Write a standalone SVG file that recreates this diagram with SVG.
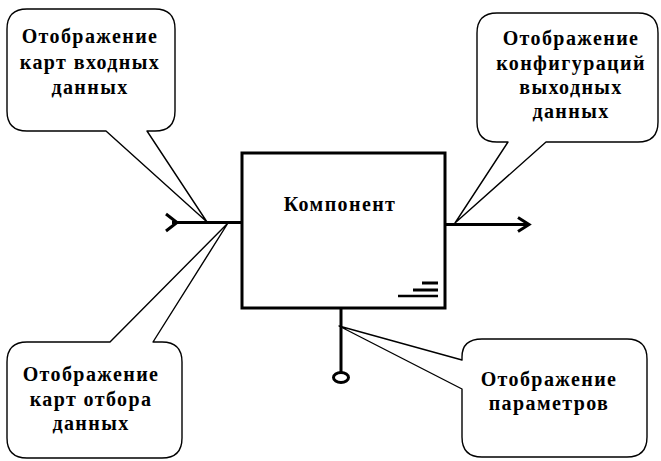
<svg xmlns="http://www.w3.org/2000/svg" width="661" height="461" viewBox="0 0 661 461">
<style>
  .bubble { fill: #ffffff; stroke: #000000; stroke-width: 1.4; stroke-linejoin: round; }
  .lbl { font-family: "Liberation Serif", "Times New Roman", serif; font-weight: bold; font-size: 20px; letter-spacing: 1.4px; text-anchor: middle; fill: #000000; }
  .thick { fill: none; stroke: #000000; stroke-width: 3; }
</style>
<rect x="0" y="0" width="661" height="461" fill="#ffffff"/>

<g id="connectors">
  <line class="thick" x1="172" y1="222.5" x2="242" y2="222.5"/>
  <polyline class="thick" points="166,214 177,222.5 166,231"/>
  <line class="thick" x1="445" y1="224.5" x2="528" y2="224.5"/>
  <polyline class="thick" points="518,217.5 529,224.5 518,231.5"/>
  <line class="thick" x1="341" y1="308" x2="341" y2="372"/>
  <ellipse cx="341" cy="377.5" rx="7.5" ry="5" fill="#ffffff" stroke="#000000" stroke-width="3"/>
</g>

<g id="component">
  <rect x="242" y="153" width="203" height="155" fill="#ffffff" stroke="#000000" stroke-width="3"/>
  <text class="lbl" x="340" y="211">Компонент</text>
  <line x1="422" y1="283" x2="438" y2="283" stroke="#000" stroke-width="3"/>
  <line x1="413" y1="290" x2="438" y2="290" stroke="#000" stroke-width="3"/>
  <line x1="398" y1="296" x2="438" y2="296" stroke="#000" stroke-width="2.5"/>
</g>

<g id="callout-input">
  <path class="bubble" d="M 27,9 H 155 Q 175,9 175,29 V 111 Q 175,131 155,131 H 147 L 207,222 L 106,131 H 27 Q 7,131 7,111 V 29 Q 7,9 27,9 Z"/>
  <text class="lbl" x="90" y="43">Отображение</text>
  <text class="lbl" x="90" y="69">карт входных</text>
  <text class="lbl" x="90" y="94">данных</text>
</g>

<g id="callout-output">
  <path class="bubble" d="M 497,13 H 638 Q 658,13 658,33 V 122 Q 658,142 638,142 H 546 L 455,223 L 508,142 H 497 Q 477,142 477,122 V 33 Q 477,13 497,13 Z"/>
  <text class="lbl" x="571" y="45">Отображение</text>
  <text class="lbl" x="571" y="70">конфигураций</text>
  <text class="lbl" x="571" y="94">выходных</text>
  <text class="lbl" x="571" y="118">данных</text>
</g>

<g id="callout-select">
  <path class="bubble" d="M 27,342 H 110 L 228,223 L 153,342 H 162 Q 182,342 182,362 V 438 Q 182,458 162,458 H 27 Q 7,458 7,438 V 362 Q 7,342 27,342 Z"/>
  <text class="lbl" x="91" y="381">Отображение</text>
  <text class="lbl" x="91" y="406">карт отбора</text>
  <text class="lbl" x="91" y="430">данных</text>
</g>

<g id="callout-params">
  <path class="bubble" d="M 482,339 H 627 Q 647,339 647,359 V 437 Q 647,457 627,457 H 482 Q 462,457 462,437 V 389 L 339,326 L 462,360 V 357 Q 462,339 482,339 Z"/>
  <text class="lbl" x="549" y="386">Отображение</text>
  <text class="lbl" x="549" y="410">параметров</text>
</g>
</svg>
